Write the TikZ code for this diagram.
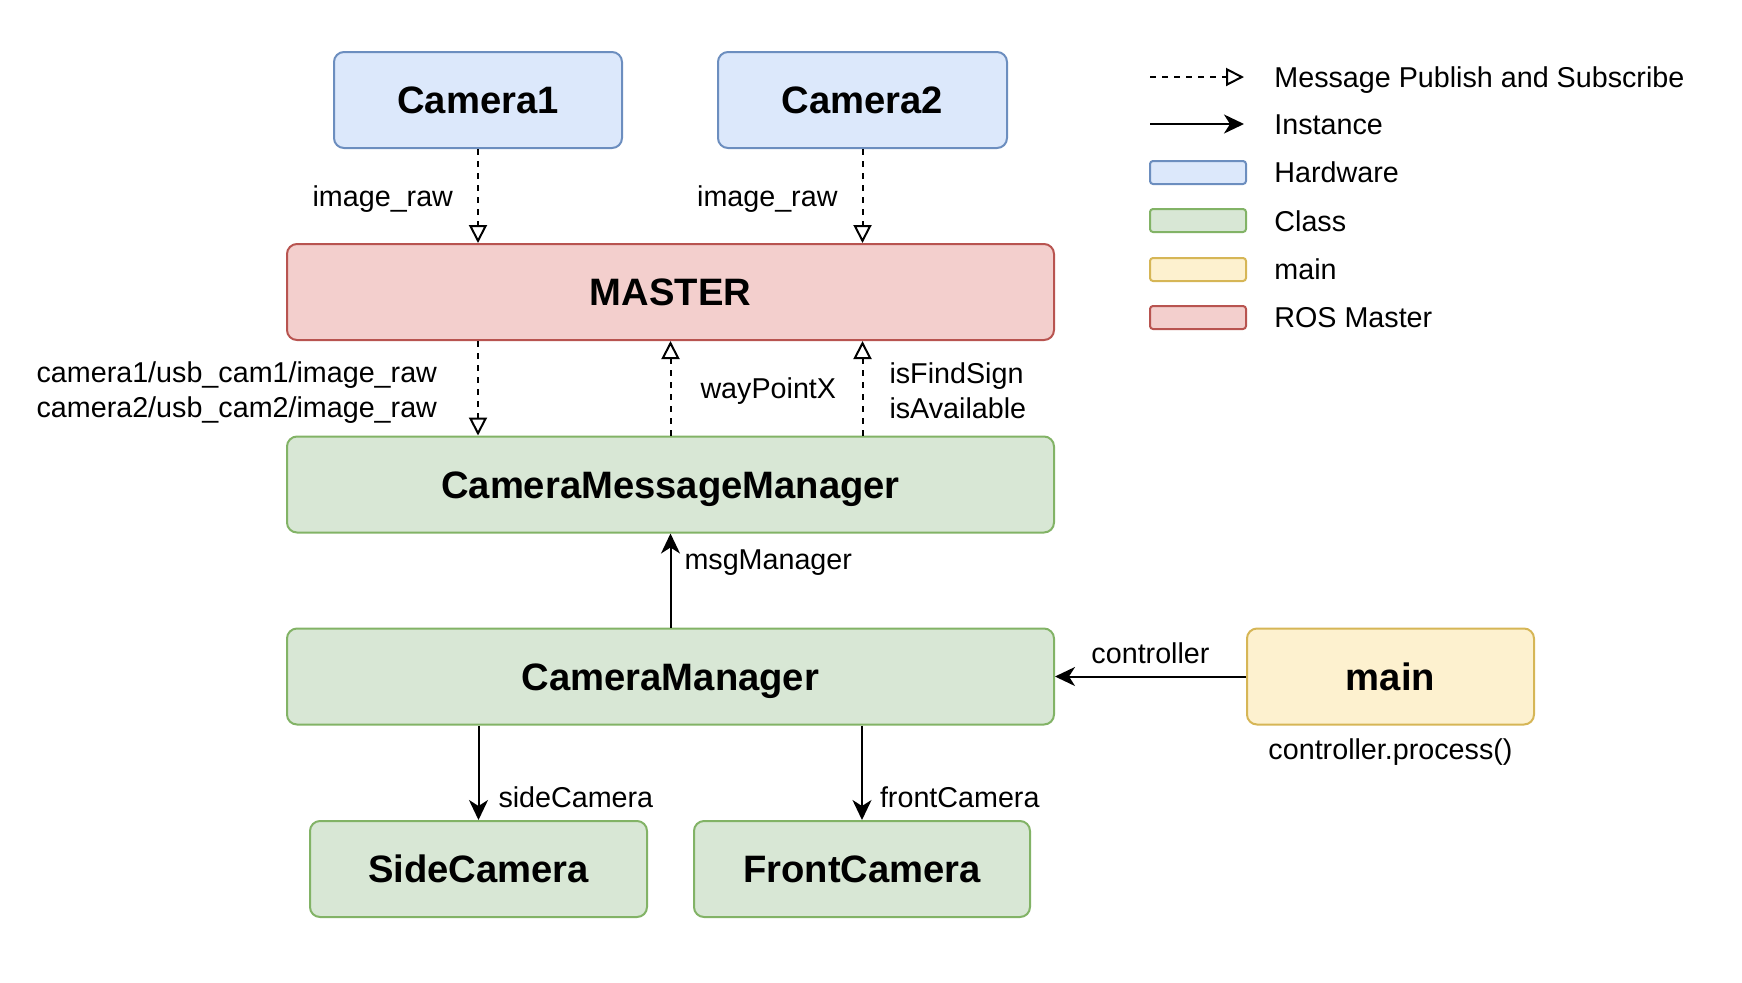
\documentclass[tikz,border=0pt]{standalone}
\usepackage{fontspec}
\setmainfont{Liberation Sans}
\usetikzlibrary{arrows.meta}
\definecolor{hwfill}{HTML}{DCE8FB}
\definecolor{hwdraw}{HTML}{6C8EBF}
\definecolor{clfill}{HTML}{D8E7D5}
\definecolor{cldraw}{HTML}{82B366}
\definecolor{mnfill}{HTML}{FDF1CF}
\definecolor{mndraw}{HTML}{D6B656}
\definecolor{rsfill}{HTML}{F3CFCD}
\definecolor{rsdraw}{HTML}{B85450}
\tikzset{
  box/.style={draw, line width=1pt, rounded corners=5pt, inner sep=0pt,
    minimum height=48pt, text height=13.7pt, text depth=0pt,
    font=\fontsize{19.1pt}{23pt}\selectfont\bfseries},
  hw/.style={box, fill=hwfill, draw=hwdraw},
  cls/.style={box, fill=clfill, draw=cldraw},
  mn/.style={box, fill=mnfill, draw=mndraw},
  rs/.style={box, fill=rsfill, draw=rsdraw},
  lbl/.style={inner sep=0pt, font=\fontsize{14.35pt}{17.5pt}\selectfont},
  one/.style={text height=10.3pt, text depth=0pt},
  msg/.style={line width=1pt, dash pattern=on 3pt off 3pt,
    -{Triangle[open, length=9pt, width=9pt, line width=1pt]}},
  inst/.style={line width=1pt, -{Stealth[length=10pt, width=9.5pt, inset=3pt]}},
  legbox/.style={draw, line width=1pt, rounded corners=1.5pt, minimum width=48pt, minimum height=11.5pt, inner sep=0pt},
}
\begin{document}
\begin{tikzpicture}[x=0.5pt, y=-0.5pt]
\useasboundingbox (0,0) rectangle (1742,982);

% nodes
\node[hw, minimum width=144pt] (cam1) at (478,100) {Camera1};
\node[hw, minimum width=144.5pt] (cam2) at (862.5,100) {Camera2};
\node[rs, minimum width=383.5pt] (master) at (670.5,292) {MASTER};
\node[cls, minimum width=383.5pt] (cmm) at (670.5,484.5) {CameraMessageManager};
\node[cls, minimum width=383.5pt] (cm) at (670.5,676.5) {CameraManager};
\node[mn, minimum width=143.5pt] (main) at (1390.5,676.5) {main};
\node[cls, minimum width=168.5pt] (side) at (478.5,869) {SideCamera};
\node[cls, minimum width=168pt] (front) at (862,869) {FrontCamera};

% message connectors
\draw[msg] (cam1.south) -- (master.north -| cam1.south)
  node[lbl, one, pos=0.5, anchor=east, xshift=-12pt] {image\_raw};
\draw[msg] (cam2.south) -- (master.north -| cam2.south)
  node[lbl, one, pos=0.5, anchor=east, xshift=-12pt] {image\_raw};
\draw[msg] (master.south -| cam1.south) -- (cmm.north -| cam1.south)
  node[lbl, pos=0.5, anchor=east, xshift=-20pt, yshift=-2pt, align=right] {camera1/usb\_cam1/image\_raw\\camera2/usb\_cam2/image\_raw};
\draw[msg] (cmm.north) -- (master.south)
  node[lbl, one, pos=0.5, anchor=west, xshift=14.5pt] {wayPointX};
\draw[msg] (cmm.north -| cam2.south) -- (master.south -| cam2.south)
  node[lbl, pos=0.5, anchor=west, xshift=13pt, yshift=-1pt, align=left] {isFindSign\\isAvailable};

% instance connectors
\draw[inst] (cm.north) -- (cmm.south)
  node[lbl, one, pos=0.73, anchor=west, xshift=6.5pt] {msgManager};
\draw[inst] (main.west) -- (cm.east)
  node[lbl, one, pos=0.5, yshift=11.5pt] {controller};
\draw[inst] (cm.south -| side.north) -- (side.north)
  node[lbl, one, pos=0.76, anchor=west, xshift=9.5pt] {sideCamera};
\draw[inst] (cm.south -| front.north) -- (front.north)
  node[lbl, one, pos=0.76, anchor=west, xshift=8.5pt] {frontCamera};
\node[lbl, one] (proc) at ([yshift=-12pt]main.south) {controller.process()};

% legend
\coordinate (l1a) at (1150,77);
\coordinate (l1b) at (1244,77);
\coordinate (l2a) at (1150,124);
\coordinate (l2b) at (1244,124);
\draw[msg] (l1a) -- (l1b);
\draw[inst] (l2a) -- (l2b);
\node[legbox, fill=hwfill, draw=hwdraw] (lhw) at (1198,172.5) {};
\node[legbox, fill=clfill, draw=cldraw] (lcl) at (1198,220.5) {};
\node[legbox, fill=mnfill, draw=mndraw] (lmn) at (1198,269.5) {};
\node[legbox, fill=rsfill, draw=rsdraw] (lrs) at (1198,317.5) {};
\node[lbl, anchor=base west] (t1) at (1274,87) {Message Publish and Subscribe};
\node[lbl, anchor=base west] (t2) at (1274,134) {Instance};
\node[lbl, anchor=base west] (t3) at (1274,182) {Hardware};
\node[lbl, anchor=base west] (t4) at (1274,231) {Class};
\node[lbl, anchor=base west] (t5) at (1274,279) {main};
\node[lbl, anchor=base west] (t6) at (1274,327) {ROS Master};
\end{tikzpicture}
\end{document}
